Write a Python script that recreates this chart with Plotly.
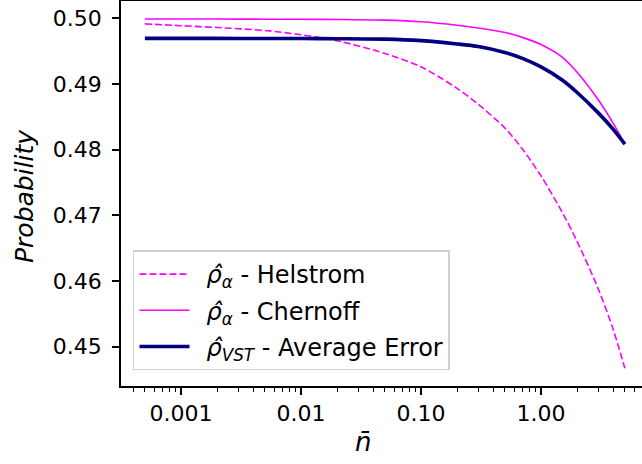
import plotly.graph_objects as go

n_bar = [0.0005, 0.001, 0.002, 0.005, 0.01, 0.02, 0.05, 0.1, 0.2, 0.3, 0.5, 0.7, 1.0, 1.5, 2.0, 3.0, 4.0, 5.0]
helstrom = [0.49915, 0.49888, 0.49860, 0.49815, 0.49750, 0.49659, 0.49466, 0.49262, 0.48933, 0.48690,
            0.48330, 0.48010, 0.47600, 0.47050, 0.46600, 0.45880, 0.45260, 0.44670]
chernoff = [0.49990, 0.49990, 0.49989, 0.49987, 0.49985, 0.49982, 0.49972, 0.49948, 0.49895, 0.49852,
            0.49785, 0.49710, 0.49600, 0.49410, 0.49180, 0.48760, 0.48400, 0.48084]
avg_error = [0.49695, 0.49695, 0.49694, 0.49693, 0.49692, 0.49690, 0.49683, 0.49660, 0.49610, 0.49570,
             0.49480, 0.49390, 0.49260, 0.49060, 0.48870, 0.48560, 0.48310, 0.48084]

x_tickvals = [0.001, 0.01, 0.1, 1.0]
x_ticktext = ["0.001", "0.01", "0.10", "1.00"]
y_tickvals = [0.45, 0.46, 0.47, 0.48, 0.49, 0.50]

names = [
    "\u2002<i>\u03c1\u0302</i><sub><i>\u03b1</i></sub> - Helstrom",
    "\u2002<i>\u03c1\u0302</i><sub><i>\u03b1</i></sub> - Chernoff",
    "\u2002<i>\u03c1\u0302</i><sub><i>VST</i></sub> - Average Error",
]

FONT = "DejaVu Sans"

fig = go.Figure()
fig.add_trace(go.Scatter(x=n_bar, y=helstrom, mode="lines", name=names[0], legendgroup="a",
                         line=dict(color="#ff00ff", width=1.6, dash="7px,3px", shape="spline", smoothing=0.8)))
fig.add_trace(go.Scatter(x=n_bar, y=chernoff, mode="lines", name=names[1], legendgroup="b",
                         line=dict(color="#ff00ff", width=1.6, shape="spline", smoothing=0.8)))
fig.add_trace(go.Scatter(x=n_bar, y=avg_error, mode="lines", name=names[2], legendgroup="c",
                         line=dict(color="#000080", width=3.6, shape="spline", smoothing=0.8)))

fig.update_layout(
    width=642, height=464,
    margin=dict(l=121, r=0, t=1, b=78, autoexpand=False),
    paper_bgcolor="white", plot_bgcolor="white",
    font=dict(family=FONT, size=22, color="black"),
    showlegend=True,
    legend=dict(x=0.023, y=0.352, xanchor="left", yanchor="top",
                bgcolor="rgba(255,255,255,0.8)", bordercolor="#d0d0d0", borderwidth=1.5,
                font=dict(family=FONT, size=24), tracegroupgap=2, traceorder="grouped",
                itemwidth=50),
    xaxis=dict(type="log", range=[-3.5, 0.8417], tickvals=x_tickvals, ticktext=x_ticktext,
               automargin=False,
               showgrid=False, zeroline=False, showline=True, linecolor="black", linewidth=1.6,
               mirror=True, ticks="outside", ticklen=7, tickwidth=1.6, tickcolor="black",
               minor=dict(ticks="outside", ticklen=4, tickwidth=1.2, tickcolor="black",
                          dtick="D1", showgrid=False),
               tickfont=dict(family=FONT, size=22)),
    yaxis=dict(range=[0.4440, 0.50264], tickvals=y_tickvals, tickformat=".2f",
               automargin=False, ticklabelstandoff=6,
               showgrid=False, zeroline=False, showline=True, linecolor="black", linewidth=1.6,
               ticks="outside", ticklen=7, tickwidth=1.6, tickcolor="black",
               tickfont=dict(family=FONT, size=22)),
    annotations=[
        dict(text="<i>n\u0304</i>", xref="paper", yref="paper", x=(363 - 121) / 521, y=-(442 - 386) / 385,
             xanchor="center", yanchor="middle", showarrow=False, font=dict(family=FONT, size=26)),
        dict(text="<i>Probability</i>", xref="paper", yref="paper", x=(24 - 121) / 521, y=(386 - 196) / 385,
             xanchor="center", yanchor="middle", textangle=-90, showarrow=False,
             font=dict(family=FONT, size=25)),
    ],
)

fig.write_html("out.html", config={"displayModeBar": False},
               post_script="document.body.style.margin='0';document.body.style.overflow='hidden';")
